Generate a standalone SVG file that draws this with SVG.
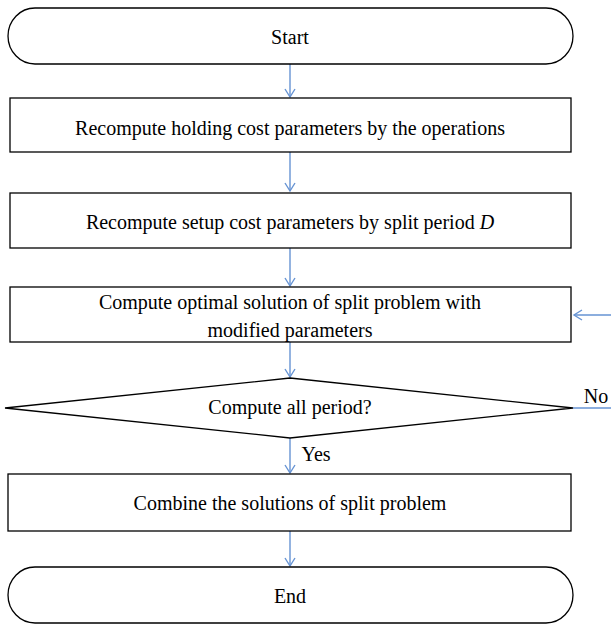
<svg xmlns="http://www.w3.org/2000/svg" width="611" height="625" viewBox="0 0 611 625">
<style>
.n{fill:#fff;stroke:#000;stroke-width:1.3}
.t{font-family:"Liberation Serif","Times New Roman",serif;font-size:20px;fill:#000;text-anchor:middle;dominant-baseline:central}
.c{fill:none;stroke:#6693d3;stroke-width:1.4}
</style>
<defs>
<marker id="ah" markerWidth="12" markerHeight="12" refX="10" refY="6" orient="auto" markerUnits="userSpaceOnUse">
<path d="M2,1 L10,6 L2,11" fill="none" stroke="#6693d3" stroke-width="1.4"/>
</marker>
</defs>
<rect width="611" height="625" fill="#fff"/>
<g id="connectors">
<line class="c" x1="290" y1="64" x2="290" y2="97" marker-end="url(#ah)"/>
<line class="c" x1="290" y1="152" x2="290" y2="191" marker-end="url(#ah)"/>
<line class="c" x1="290" y1="248" x2="290" y2="286" marker-end="url(#ah)"/>
<line class="c" x1="290" y1="342" x2="290" y2="377" marker-end="url(#ah)"/>
<line class="c" x1="290" y1="438" x2="290" y2="473" marker-end="url(#ah)"/>
<line class="c" x1="290" y1="531" x2="290" y2="566" marker-end="url(#ah)"/>
<line class="c" x1="573" y1="408" x2="611" y2="408"/>
<line class="c" x1="611" y1="315" x2="574" y2="315" marker-end="url(#ah)"/>
<text class="t" x="596" y="396">No</text>
<text class="t" x="316" y="454">Yes</text>
</g>
<g id="start">
<rect class="n" x="8" y="8" width="565" height="56" rx="27" ry="28"/>
<text class="t" x="290" y="37">Start</text>
</g>
<g id="holding">
<rect class="n" x="10" y="98" width="561" height="54"/>
<text class="t" x="290" y="128">Recompute holding cost parameters by the operations</text>
</g>
<g id="setup">
<rect class="n" x="10" y="193" width="561" height="55"/>
<text class="t" x="290" y="222">Recompute setup cost parameters by split period <tspan font-style="italic">D</tspan></text>
</g>
<g id="optimal">
<rect class="n" x="10" y="287" width="561" height="55"/>
<text class="t" x="290" y="302">Compute optimal solution of split problem with</text>
<text class="t" x="290" y="330">modified parameters</text>
</g>
<g id="decision">
<polygon class="n" points="290,378 573,408 290,438 5,408"/>
<text class="t" x="290" y="407">Compute all period?</text>
</g>
<g id="combine">
<rect class="n" x="8" y="474" width="563" height="57"/>
<text class="t" x="290" y="503">Combine the solutions of split problem</text>
</g>
<g id="end">
<rect class="n" x="8" y="567" width="565" height="56" rx="27" ry="28"/>
<text class="t" x="290" y="596">End</text>
</g>
</svg>
